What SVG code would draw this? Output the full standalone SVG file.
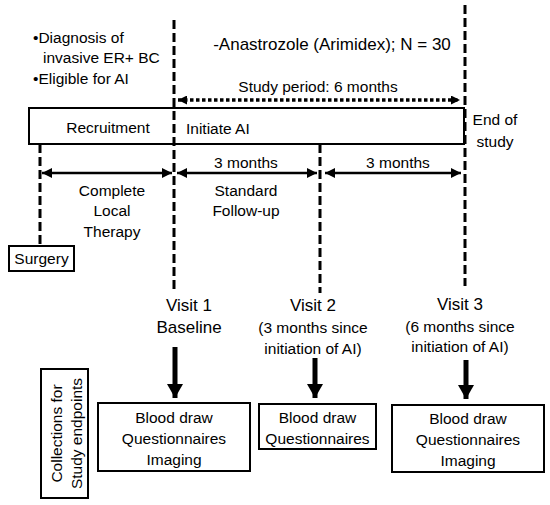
<svg xmlns="http://www.w3.org/2000/svg" width="550" height="505" viewBox="0 0 550 505">
<defs>
<style>
text{font-family:"Liberation Sans",Arial,sans-serif;font-size:15.5px;fill:#000}
.c{text-anchor:middle}
.v{font-size:17px}
.box{fill:#fff;stroke:#000;stroke-width:2}
.dash{stroke:#000;stroke-width:3;stroke-dasharray:9 4;fill:none}
.dot{stroke:#000;stroke-width:3.5;stroke-dasharray:3.5 2.5;fill:none}
.arr{stroke:#000;stroke-width:2.5;fill:none}
.big{stroke:#000;stroke-width:5;fill:none}
</style>
<marker id="ah" viewBox="0 0 10 10" refX="10" refY="5" markerWidth="10" markerHeight="10" markerUnits="userSpaceOnUse" orient="auto-start-reverse"><path d="M0,0 L10,5 L0,10 z" fill="#000"/></marker>
<marker id="ad" viewBox="0 0 10 10" refX="10" refY="5" markerWidth="9" markerHeight="9" markerUnits="userSpaceOnUse" orient="auto-start-reverse"><path d="M0,0 L10,5 L0,10 z" fill="#000"/></marker>
<marker id="ab" viewBox="0 0 16 14" refX="8" refY="14" markerWidth="16" markerHeight="14" markerUnits="userSpaceOnUse" orient="0"><path d="M0,0 L16,0 L8,14 z" fill="#000"/></marker>
</defs>
<rect width="550" height="505" fill="#fff"/>

<g id="recruitment-bar">
<rect class="box" x="29" y="108" width="435" height="36"/>
<text class="c" x="108" y="133">Recruitment</text>
<text x="186" y="134">Initiate AI</text>
</g>

<g id="connectors">
<line class="dash" x1="174" y1="20" x2="174" y2="293"/>
<line class="dash" x1="320" y1="144" x2="320" y2="293"/>
<line class="dash" x1="465" y1="5" x2="465" y2="286"/>
<line class="dash" x1="40" y1="144" x2="40" y2="246"/>
<line class="dot" x1="178" y1="100" x2="460" y2="100" marker-start="url(#ad)" marker-end="url(#ad)"/>
<line class="arr" x1="42" y1="173" x2="172" y2="173" marker-start="url(#ah)" marker-end="url(#ah)"/>
<line class="arr" x1="177" y1="173" x2="317" y2="173" marker-start="url(#ah)" marker-end="url(#ah)"/>
<line class="arr" x1="325" y1="173" x2="461" y2="173" marker-start="url(#ah)" marker-end="url(#ah)"/>
<line class="big" x1="175" y1="347" x2="175" y2="398" marker-end="url(#ab)"/>
<line class="big" x1="315" y1="358" x2="315" y2="398" marker-end="url(#ab)"/>
<line class="big" x1="466" y1="360" x2="466" y2="399" marker-end="url(#ab)"/>
</g>

<g id="criteria">
<text x="33" y="43">•Diagnosis of</text>
<text x="43" y="63">invasive ER+ BC</text>
<text x="33" y="84">•Eligible for AI</text>
</g>

<g id="drug-label">
<text class="c" x="332" y="50" style="font-size:17px">-Anastrozole (Arimidex); N = 30</text>
</g>

<g id="study-period">
<text class="c" x="318" y="92">Study period: 6 months</text>
</g>

<g id="end-of-study">
<text class="c" x="495" y="125">End of</text>
<text class="c" x="495" y="147">study</text>
</g>

<g id="local-therapy">
<text class="c" x="112" y="196">Complete</text>
<text class="c" x="112" y="216">Local</text>
<text class="c" x="112" y="237">Therapy</text>
</g>

<g id="follow-up">
<text class="c" x="246" y="168">3 months</text>
<text class="c" x="246" y="196">Standard</text>
<text class="c" x="246" y="216">Follow-up</text>
</g>

<g id="second-period">
<text class="c" x="398" y="168">3 months</text>
</g>

<g id="surgery">
<rect class="box" x="9" y="246" width="65" height="25"/>
<text class="c" x="41.5" y="264">Surgery</text>
</g>

<g id="visit1">
<text class="c v" x="189" y="311">Visit 1</text>
<text class="c v" x="189" y="333">Baseline</text>
</g>

<g id="visit2">
<text class="c v" x="313" y="311">Visit 2</text>
<text class="c" x="313" y="333">(3 months since</text>
<text class="c" x="313" y="354">initiation of AI)</text>
</g>

<g id="visit3">
<text class="c v" x="460" y="310">Visit 3</text>
<text class="c" x="460" y="332">(6 months since</text>
<text class="c" x="460" y="352">initiation of AI)</text>
</g>

<g id="collections">
<rect class="box" x="41" y="369" width="47" height="129"/>
<text class="c" transform="translate(62,433.5) rotate(-90)">Collections for</text>
<text class="c" transform="translate(82,433.5) rotate(-90)">Study endpoints</text>
</g>

<g id="box1">
<rect class="box" x="98" y="403" width="152" height="68"/>
<text class="c" x="174" y="423">Blood draw</text>
<text class="c" x="174" y="444">Questionnaires</text>
<text class="c" x="174" y="465">Imaging</text>
</g>

<g id="box2">
<rect class="box" x="259" y="404" width="117" height="45"/>
<text class="c" x="317.5" y="423">Blood draw</text>
<text class="c" x="317.5" y="444">Questionnaires</text>
</g>

<g id="box3">
<rect class="box" x="392" y="405" width="152" height="67"/>
<text class="c" x="468" y="424">Blood draw</text>
<text class="c" x="468" y="445">Questionnaires</text>
<text class="c" x="468" y="466">Imaging</text>
</g>
</svg>
